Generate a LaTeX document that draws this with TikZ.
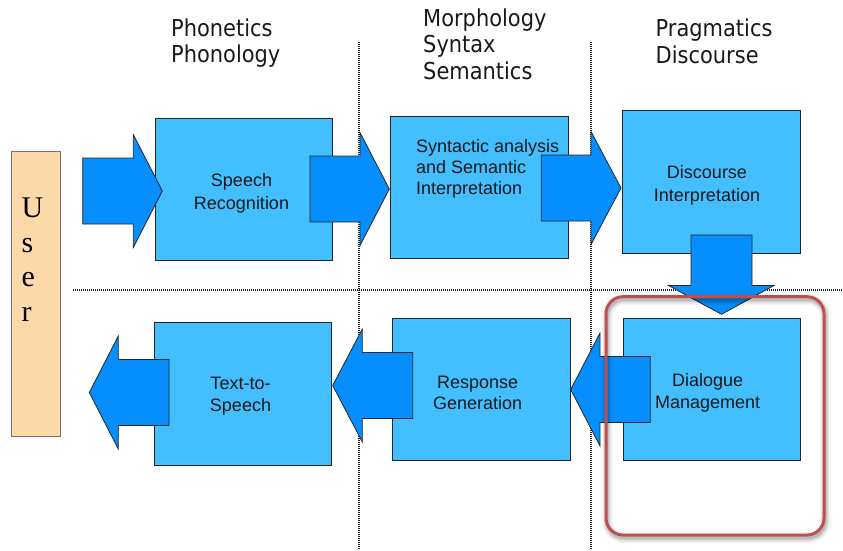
\documentclass[tikz,border=0pt]{standalone}
\usepackage{fontspec}
\newfontfamily\boxfont{Liberation Sans}
\newfontfamily\headfont{DejaVu Sans Condensed}
\newfontfamily\userfont{Liberation Serif}
\definecolor{boxblue}{RGB}{67,190,255}
\definecolor{arrowblue}{RGB}{6,142,254}
\definecolor{userfill}{RGB}{253,217,170}
\definecolor{framered}{RGB}{192,80,77}
\newcommand\harrow[4]{% tail x, head base x, tip x, centre y
  \draw[blockarrow] (#1,#4-33) -- (#2,#4-33) -- (#2,#4-56.5) -- (#3,#4)
    -- (#2,#4+56.5) -- (#2,#4+33) -- (#1,#4+33) -- cycle;}
\begin{document}
\begin{tikzpicture}[x=1pt,y=-1pt,
  stagebox/.style={draw=black!85, line width=0.9pt, fill=boxblue,
    minimum width=177.5pt, minimum height=142.5pt, inner sep=0, outer sep=0,
    anchor=north west},
  boxtext/.style={font=\boxfont\fontsize{18}{23}\selectfont, align=center,
    inner sep=0, text=black!90},
  headtext/.style={font=\headfont\fontsize{23.3}{26.5}\selectfont, align=left,
    inner sep=0, anchor=north west, text=black!90},
  blockarrow/.style={draw=black!85, line width=0.8pt, fill=arrowblue, line join=miter},
  divider/.style={draw=black!85, line width=1.1pt, dash pattern=on 1pt off 1pt}]
\useasboundingbox (0,0) rectangle (843,550);

% level dividers
\coordinate (v1top) at (359,42);  \coordinate (v1bot) at (359,550);
\coordinate (v2top) at (591,42);  \coordinate (v2bot) at (591,550);
\coordinate (hleft) at (73,290);  \coordinate (hright) at (843,290);
\draw[divider] (v1top) -- (v1bot);
\draw[divider] (v2top) -- (v2bot);
\draw[divider] (hleft) -- (hright);

% level headings
\node[headtext] (h1) at (171,18.3) {Phonetics\\Phonology};
\node[headtext] (h2) at (423,8.3) {Morphology\\Syntax\\Semantics};
\node[headtext] (h3) at (655.5,19) {Pragmatics\\Discourse};

% user
\node[draw=black!55, line width=0.9pt, fill=userfill, minimum width=49pt,
  minimum height=285pt, inner sep=0, anchor=north west] (user) at (11,151) {};
\node[font=\userfont\fontsize{30}{34.5}\selectfont, align=left, inner sep=0,
  anchor=north west] (userlbl) at (21.5,198.1) {U\\s\\e\\r};

% processing stages
\node[stagebox] (sr)  at (155.3,118.3) {};
\node[stagebox] (syn) at (390.7,116.2) {};
\node[stagebox] (di)  at (622.7,110.8) {};
\node[stagebox] (tts) at (154.2,322.8) {};
\node[stagebox] (rg)  at (392.6,318.2) {};
\node[stagebox] (dm)  at (623,318.4) {};

\node[boxtext] (sr-t) at (241.5,193) {Speech\\Recognition};
\node[boxtext, align=left, anchor=west, font=\boxfont\fontsize{18}{21}\selectfont]
  (syn-t) at (415.8,168.8) {Syntactic analysis\\and Semantic\\Interpretation};
\node[boxtext] (di-t) at (707,185) {Discourse\\Interpretation};
\node[boxtext, font=\boxfont\fontsize{18}{21.6}\selectfont] (tts-t) at (240.5,396) {Text-to-\\Speech};
\node[boxtext, font=\boxfont\fontsize{18}{21.6}\selectfont] (rg-t) at (477.7,393) {Response\\Generation};
\node[boxtext, font=\boxfont\fontsize{18}{21.6}\selectfont] (dm-t) at (707.7,393) {Dialogue\\Management};

% flow arrows
\harrow{82.7}{133.3}{162.3}{191}
\harrow{310}{360}{389.3}{189}
\harrow{541.3}{591}{621}{188}
\draw[blockarrow] (691,235) -- (752,235) -- (752,285.5) -- (774,285.5)
  -- (721.5,314.3) -- (668.5,285.5) -- (691,285.5) -- cycle;
\harrow{650.3}{600}{570.7}{389.5}
\harrow{412.7}{362.3}{332.7}{385.5}
\harrow{169}{118.3}{89.3}{392.5}

% highlight frame with soft shadow
\begin{scope}[shift={(1.2,2.8)}]
  \foreach \w/\o in {11/0.04, 8/0.06, 5.5/0.08, 3/0.12}
    \draw[black, opacity=\o, line width=\w pt, rounded corners=17pt]
      (606,296.7) rectangle (824,535);
\end{scope}
\draw[framered, line width=3pt, rounded corners=17pt] (606,296.7) rectangle (824,535);
\end{tikzpicture}
\end{document}
